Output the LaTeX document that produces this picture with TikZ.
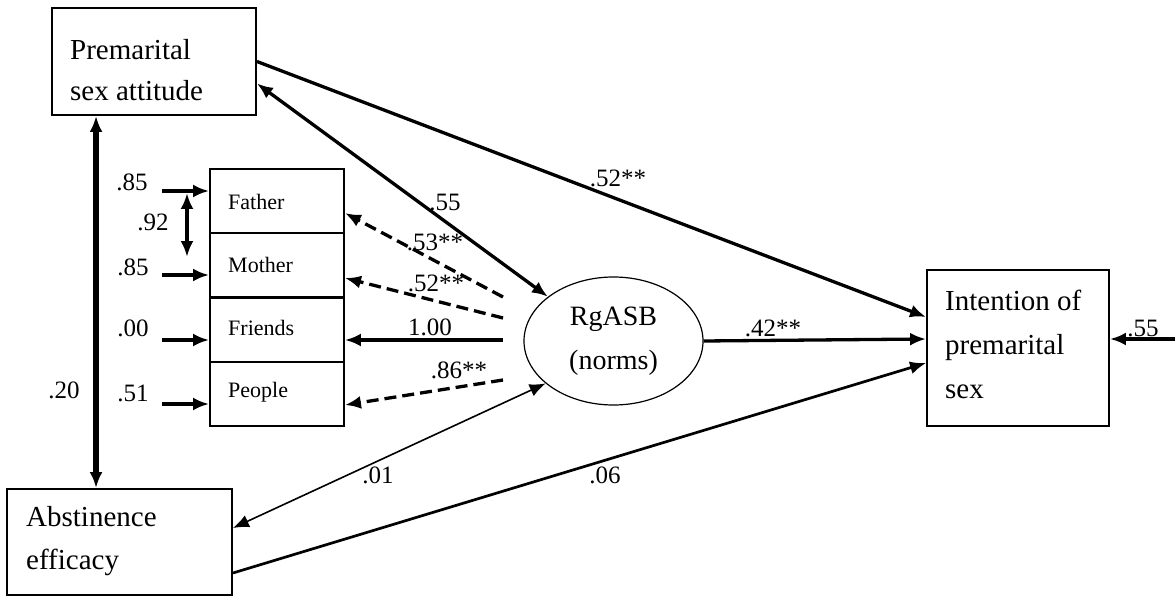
\documentclass[tikz,border=0pt]{standalone}
\usepackage{fontspec}
\setmainfont{Liberation Serif}
\usetikzlibrary{arrows.meta,calc,shapes.geometric}

\begin{document}
\begin{tikzpicture}[x=1pt,y=-1pt,
  varbox/.style={draw, line width=1.9pt, inner sep=0pt},
  boxtext/.style={font=\fontsize{29}{41}\selectfont, align=left, inner sep=0pt, anchor=west},
  indic/.style={font=\fontsize{22}{26}\selectfont, inner sep=0pt, anchor=west},
  coef/.style={font=\fontsize{25}{28}\selectfont, inner sep=0pt},
  oneway/.style={-{Latex[length=16pt,width=13pt]}},
  twoway/.style={{Latex[length=16pt,width=13pt]}-{Latex[length=16pt,width=13pt]}},
  heavy/.style={line width=3.3pt},
  dashpath/.style={line width=3.3pt, dash pattern=on 12pt off 6pt}
]
\useasboundingbox (0,0) rectangle (1175,596);

% observed variables
\node[varbox, minimum width=204pt, minimum height=107pt] (pre) at (154,61.5) {};
\node[boxtext] (pretxt) at (70,70) {Premarital\\sex attitude};

\node[varbox, minimum width=225pt, minimum height=106pt] (abs) at (119.5,542) {};
\node[boxtext, font=\fontsize{29}{43}\selectfont] (abstxt) at (26,541.5) {Abstinence\\efficacy};

\node[varbox, minimum width=182pt, minimum height=156pt] (int) at (1018,348) {};
\node[boxtext, font=\fontsize{29}{44}\selectfont] (inttxt) at (945,344) {Intention of\\premarital\\sex};

% indicators of the latent norm factor
\node[varbox, minimum width=134pt, minimum height=64pt] (father)  at (277,201) {};
\node[varbox, minimum width=134pt, minimum height=64pt] (mother)  at (277,265) {};
\node[varbox, minimum width=134pt, minimum height=64pt] (friends) at (277,330) {};
\node[varbox, minimum width=134pt, minimum height=64pt] (people)  at (277,394) {};
\node[indic] (fathertxt)  at (228,202) {Father};
\node[indic] (mothertxt)  at (228,265) {Mother};
\node[indic] (friendstxt) at (228,328) {Friends};
\node[indic] (peopletxt)  at (228,392) {People};

% latent factor
\node[draw, ellipse, line width=1.2pt, minimum width=179pt, minimum height=128pt,
      inner sep=0pt, align=center, font=\fontsize{28}{44}\selectfont] (rg) at (613.5,341) {RgASB\\(norms)};

% free ends
\coordinate (ef)  at (162,191);
\coordinate (em)  at (162,275);
\coordinate (efr) at (162,340);
\coordinate (ep)  at (162,404);
\coordinate (ca)  at (187,193);
\coordinate (cb)  at (187,257);
\coordinate (sf)  at (503,297);
\coordinate (sm)  at (503,318);
\coordinate (sfr) at (503,340);
\coordinate (sp)  at (503,380);
\coordinate (dz)  at (1175,339);

% structural paths
\draw[heavy, oneway] (pre.east) -- ($(int.west)+(0,-31)$);
\draw[heavy, twoway] ($(pre.east)+(0,22)$) -- (rg.146);
\draw[heavy, oneway] (rg.east) -- ($(int.west)+(0,-9)$);
\draw[line width=2.7pt, oneway] ($(abs.east)+(0,31)$) -- ($(int.west)+(0,15)$);
\draw[line width=1.6pt, twoway] (rg.212) -- ($(abs.east)+(0,-14)$);
\draw[line width=5.5pt, twoway] ($(pre.south west)+(45,0)$) -- ($(abs.north west)+(90,0)$);
\draw[heavy, oneway] (dz) -- ($(int.east)+(0,-9)$);

% measurement paths
\draw[dashpath, oneway] (sf) -- ($(father.east)+(0,12)$);
\draw[dashpath, oneway] (sm) -- ($(mother.east)+(0,13)$);
\draw[heavy, oneway] (sfr) -- ($(friends.east)+(0,10)$);
\draw[dashpath, oneway] (sp) -- ($(people.east)+(0,11)$);

% error terms
\draw[line width=4.2pt, oneway] (ef) -- ($(father.west)+(0,-10)$);
\draw[heavy, oneway] (em) -- ($(mother.west)+(0,10)$);
\draw[heavy, oneway] (efr) -- ($(friends.west)+(0,10)$);
\draw[heavy, oneway] (ep) -- ($(people.west)+(0,10)$);
\draw[heavy, twoway] (ca) -- (cb);

% coefficients
\node[coef] (c1)  at (132,182) {.85};
\node[coef] (c2)  at (153,222) {.92};
\node[coef] (c3)  at (133,267) {.85};
\node[coef] (c4)  at (133,328) {.00};
\node[coef] (c5)  at (133,393) {.51};
\node[coef] (c6)  at (64,390)  {.20};
\node[coef] (c7)  at (445,202) {.55};
\node[coef] (c8)  at (435,242) {.53**};
\node[coef] (c9)  at (436,283) {.52**};
\node[coef] (c10) at (430,327) {1.00};
\node[coef] (c11) at (459,370) {.86**};
\node[coef] (c12) at (618,178) {.52**};
\node[coef] (c13) at (773,328) {.42**};
\node[coef] (c14) at (1143,328) {.55};
\node[coef] (c15) at (378,475) {.01};
\node[coef] (c16) at (605,475) {.06};
\end{tikzpicture}
\end{document}
